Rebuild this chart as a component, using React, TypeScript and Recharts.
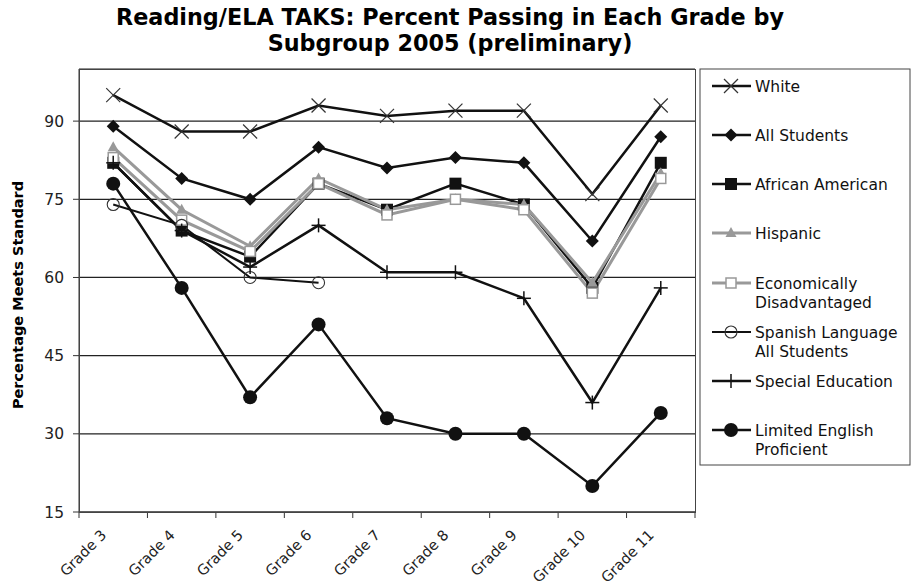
import React from "react";
import { LineChart, Line, XAxis, YAxis, CartesianGrid } from "recharts";

const grades = ["Grade 3", "Grade 4", "Grade 5", "Grade 6", "Grade 7", "Grade 8", "Grade 9", "Grade 10", "Grade 11"];
const white = [95, 88, 88, 93, 91, 92, 92, 76, 93];
const allStudents = [89, 79, 75, 85, 81, 83, 82, 67, 87];
const africanAmerican = [82, 69, 64, 78, 73, 78, 74, 58, 82];
const hispanic = [85, 73, 66, 79, 73, 75, 74, 59, 80];
const econDis = [83, 71, 65, 78, 72, 75, 73, 57, 79];
const spanish: (number | null)[] = [74, 70, 60, 59, null, null, null, null, null];
const specialEd = [82, 69, 62, 70, 61, 61, 56, 36, 58];
const lep = [78, 58, 37, 51, 33, 30, 30, 20, 34];
const yTicks = [15, 30, 45, 60, 75, 90];

const data = grades.map((g, i) => ({
  grade: g,
  white: white[i],
  all: allStudents[i],
  aa: africanAmerican[i],
  hisp: hispanic[i],
  econ: econDis[i],
  span: spanish[i],
  sped: specialEd[i],
  lep: lep[i],
}));

const FONT = "'DejaVu Sans', Verdana, sans-serif";
const BLACK = "#111";
const GRAY = "#999";

type Shape = "x" | "diamond" | "square" | "triangle" | "hsquare" | "hcircle" | "plus" | "circle";

function marker(shape: Shape, cx: number, cy: number, key?: string) {
  switch (shape) {
    case "x":
      return (
        <g key={key}>
          <line x1={cx - 7} y1={cy - 7} x2={cx + 7} y2={cy + 7} stroke="#333" strokeWidth={1.2} />
          <line x1={cx - 7} y1={cy + 7} x2={cx + 7} y2={cy - 7} stroke="#333" strokeWidth={1.2} />
        </g>
      );
    case "diamond":
      return <polygon key={key} points={`${cx},${cy - 6.5} ${cx + 6.5},${cy} ${cx},${cy + 6.5} ${cx - 6.5},${cy}`} fill={BLACK} />;
    case "square":
      return <rect key={key} x={cx - 6} y={cy - 6} width={12} height={12} fill={BLACK} />;
    case "triangle":
      return <polygon key={key} points={`${cx},${cy - 6} ${cx + 5.5},${cy + 4} ${cx - 5.5},${cy + 4}`} fill={GRAY} />;
    case "hsquare":
      return <rect key={key} x={cx - 5} y={cy - 5} width={10} height={10} fill="#fff" stroke={GRAY} strokeWidth={1.5} />;
    case "hcircle":
      return <circle key={key} cx={cx} cy={cy} r={6} fill="none" stroke="#333" strokeWidth={1.1} />;
    case "plus":
      return (
        <g key={key}>
          <line x1={cx - 7} y1={cy} x2={cx + 7} y2={cy} stroke={BLACK} strokeWidth={1.5} />
          <line x1={cx} y1={cy - 7} x2={cx} y2={cy + 7} stroke={BLACK} strokeWidth={1.5} />
        </g>
      );
    case "circle":
      return <circle key={key} cx={cx} cy={cy} r={7} fill={BLACK} />;
  }
}

const makeDot = (shape: Shape) => (props: any) => {
  const { cx, cy, value, index } = props;
  if (value == null || cx == null || cy == null || isNaN(cy)) return <g key={`e${index}`} />;
  return <g key={`d${index}`}>{marker(shape, cx, cy)}</g>;
};

const BW = 616 / 9;

const XTick = (props: any) => {
  const { x, y, payload, index } = props;
  const last = index === grades.length - 1;
  const ax = x - 6;
  const ay = y + 24;
  return (
    <g>
      <line x1={x - BW / 2} y1={y} x2={x - BW / 2} y2={y + 6} stroke="#333" strokeWidth={1} />
      {last && <line x1={x + BW / 2} y1={y} x2={x + BW / 2} y2={y + 6} stroke="#333" strokeWidth={1} />}
      <text
        x={ax}
        y={ay}
        textAnchor="end"
        transform={`rotate(-45, ${ax}, ${ay})`}
        fontFamily={FONT}
        fontSize={14.5}
        fill="#222"
      >
        {payload.value}
      </text>
    </g>
  );
};

const series: { key: string; name: string[]; shape: Shape; color: string; width: number }[] = [
  { key: "white", name: ["White"], shape: "x", color: BLACK, width: 2.5 },
  { key: "all", name: ["All Students"], shape: "diamond", color: BLACK, width: 2.5 },
  { key: "aa", name: ["African American"], shape: "square", color: BLACK, width: 2.5 },
  { key: "hisp", name: ["Hispanic"], shape: "triangle", color: GRAY, width: 3 },
  { key: "econ", name: ["Economically", "Disadvantaged"], shape: "hsquare", color: GRAY, width: 3 },
  { key: "span", name: ["Spanish Language", "All Students"], shape: "hcircle", color: BLACK, width: 2 },
  { key: "sped", name: ["Special Education"], shape: "plus", color: BLACK, width: 2.5 },
  { key: "lep", name: ["Limited English", "Proficient"], shape: "circle", color: BLACK, width: 2.5 },
];

const legendRows = [86, 135, 184, 233, 283, 332, 381, 430];

export default function App() {
  return (
    <div style={{ position: "absolute", left: 0, top: 0, width: 911, height: 588, background: "#fff" }}>
      <svg width={911} height={70} style={{ position: "absolute", left: 0, top: 0 }}>
        <text x={450} y={25} textAnchor="middle" fontFamily={FONT} fontWeight="bold" fontSize={22.3} fill="#000">
          Reading/ELA TAKS: Percent Passing in Each Grade by
        </text>
        <text x={450} y={51} textAnchor="middle" fontFamily={FONT} fontWeight="bold" fontSize={22.3} fill="#000">
          Subgroup 2005 (preliminary)
        </text>
      </svg>
      <div style={{ position: "absolute", left: 0, top: 0 }}>
        <LineChart width={911} height={588} data={data} margin={{ top: 69, right: 216, bottom: 0, left: 0 }}>
          <CartesianGrid vertical={false} stroke="#222" strokeWidth={1.2} />
          <XAxis
            dataKey="grade"
            interval={0}
            tickLine={false}
            tickSize={0}
            tickMargin={0}
            height={76}
            padding={{ left: BW / 2, right: BW / 2 }}
            axisLine={{ stroke: "#333" }}
            tick={<XTick />}
          />
          <YAxis
            domain={[15, 100]}
            ticks={yTicks}
            width={79}
            tickSize={6}
            tickMargin={9}
            axisLine={{ stroke: "#333" }}
            tickLine={{ stroke: "#333" }}
            tick={{ fontFamily: FONT, fontSize: 15.5, fill: "#222" }}
          />
          {series.map((s) => (
            <Line
              key={s.key}
              dataKey={s.key}
              type="linear"
              stroke={s.color}
              strokeWidth={s.width}
              dot={makeDot(s.shape)}
              activeDot={false}
              isAnimationActive={false}
              connectNulls={false}
            />
          ))}
        </LineChart>
      </div>
      <div
        style={{
          position: "absolute",
          left: 79,
          top: 69,
          width: 617,
          height: 444,
          border: "1px solid #444",
          boxSizing: "border-box",
          pointerEvents: "none",
        }}
      />
      <svg width={30} height={588} style={{ position: "absolute", left: 0, top: 0 }}>
        <text
          x={23}
          y={295}
          textAnchor="middle"
          transform="rotate(-90, 23, 295)"
          fontFamily={FONT}
          fontWeight="bold"
          fontSize={14.5}
          fill="#000"
        >
          Percentage Meets Standard
        </text>
      </svg>
      <svg width={212} height={398} style={{ position: "absolute", left: 699, top: 68 }}>
        <rect x={1} y={1} width={210} height={396} fill="#fff" stroke="#444" strokeWidth={1} />
        {series.map((s, i) => {
          const yy = legendRows[i] - 68;
          return (
            <g key={s.key}>
              <line x1={13} y1={yy} x2={52} y2={yy} stroke={s.color} strokeWidth={s.width} />
              {marker(s.shape, 32, yy)}
              {s.name.map((n, j) => (
                <text key={j} x={56} y={yy + 5.5 + j * 19} fontFamily={FONT} fontSize={15.5} fill="#111">
                  {n}
                </text>
              ))}
            </g>
          );
        })}
      </svg>
    </div>
  );
}
